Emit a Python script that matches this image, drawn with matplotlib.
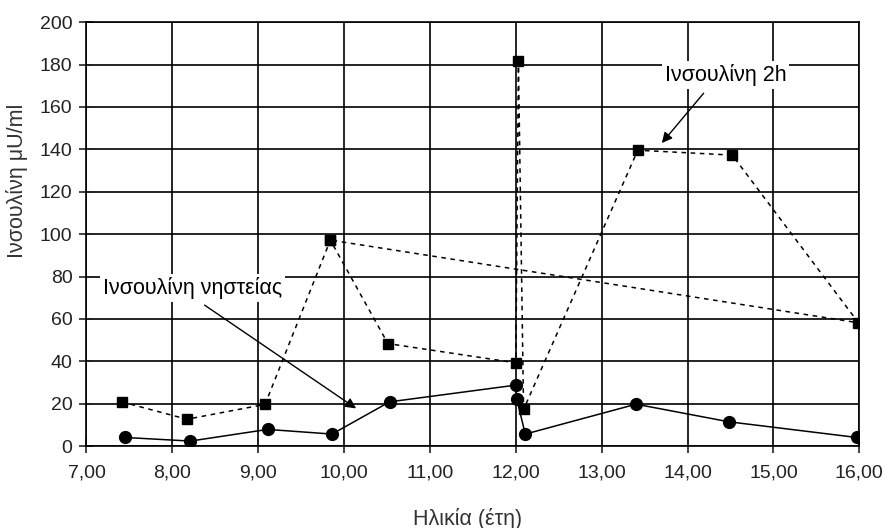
import matplotlib.pyplot as plt
from matplotlib.ticker import FuncFormatter

plt.rcParams['font.family'] = ['Liberation Sans', 'DejaVu Sans']

# Ινσουλίνη νηστείας (fasting)
age_fast = [7.45, 8.21, 9.11, 9.86, 10.53, 12.00, 12.01, 12.11, 13.40, 14.48, 15.97]
ins_fast = [4.1, 2.4, 7.9, 5.7, 20.9, 28.8, 22.3, 5.7, 19.8, 11.5, 4.1]

# Ινσουλίνη 2h (the last point repeats the 9.84 value as in the original line)
age_2h = [7.41, 8.17, 9.08, 9.84, 10.51, 12.00, 12.03, 12.09, 13.42, 14.52, 15.99, 9.84]
ins_2h = [20.9, 12.7, 19.7, 97.2, 48.4, 39.3, 181.7, 17.3, 139.6, 137.3, 58.2, 97.2]

x_ticks = [7, 8, 9, 10, 11, 12, 13, 14, 15, 16]
y_ticks = list(range(0, 201, 20))

fig = plt.figure(figsize=(8.85, 5.28), dpi=100)
ax = fig.add_axes([0.0977, 0.155, 0.8733, 0.803])

ax.plot(age_fast, ins_fast, color='black', lw=1.1, marker='o', markersize=8.5)
ax.plot(age_2h, ins_2h, color='black', lw=1.1, ls=(0, (3, 3)), marker='s', markersize=7.5)

ax.set_xlim(7, 16)
ax.set_ylim(0, 200)
ax.set_xticks(x_ticks)
ax.set_yticks(y_ticks)
ax.xaxis.set_major_formatter(FuncFormatter(lambda v, p: f'{v:.2f}'.replace('.', ',')))
ax.grid(True, color='black', lw=1.2)
ax.tick_params(direction='inout', length=10, width=1.2, labelsize=14, colors='#222222')
ax.tick_params(axis='x', pad=8)
ax.tick_params(axis='y', pad=5)
for s in ax.spines.values():
    s.set_linewidth(1.2)

ax.set_xlabel('Ηλικία (έτη)', fontsize=15.5, color='#333333')
ax.xaxis.set_label_coords(0.4926, -0.145)
ax.set_ylabel('Ινσουλίνη μU/ml', fontsize=15.5, color='#333333')
ax.yaxis.set_label_coords(-0.076, 0.627)

ax.annotate('Ινσουλίνη 2h', xy=(13.70, 143), xytext=(14.44, 175),
            ha='center', va='center', fontsize=15.5,
            bbox=dict(facecolor='white', edgecolor='none', pad=2),
            arrowprops=dict(arrowstyle='-|>', color='black', lw=1.0, shrinkA=4, shrinkB=0,
                            relpos=(0.37, 0.0)))
ax.annotate('Ινσουλίνη νηστείας', xy=(10.14, 17.8), xytext=(7.19, 74.5),
            ha='left', va='center', fontsize=15.5,
            bbox=dict(facecolor='white', edgecolor='none', pad=2),
            arrowprops=dict(arrowstyle='-|>', color='black', lw=1.0, shrinkA=4, shrinkB=0,
                            relpos=(0.52, 0.0)))

fig.savefig('out.png', dpi=100)
